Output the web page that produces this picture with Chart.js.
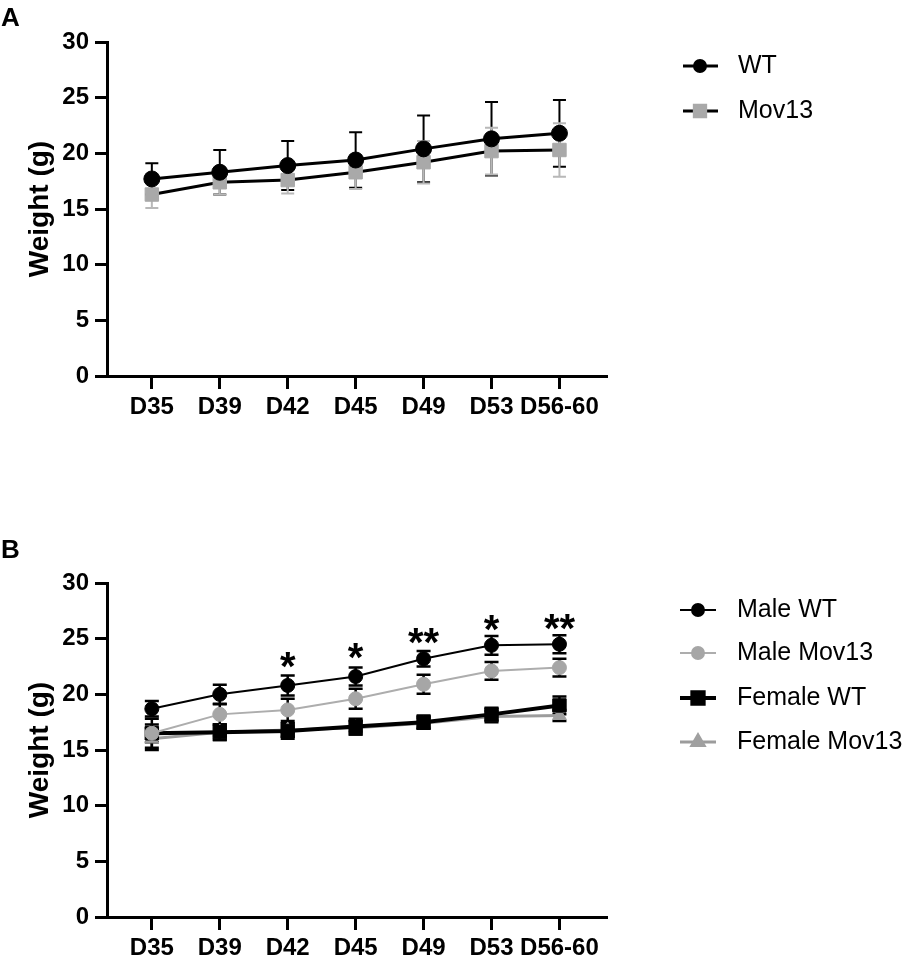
<!DOCTYPE html>
<html>
<head>
<meta charset="utf-8">
<script src="https://cdn.jsdelivr.net/npm/chart.js@4.4.1/dist/chart.umd.min.js"></script>
<style>
  body { margin: 0; background: #fff; }
  .panel { position: absolute; left: 0; width: 910px; height: 423px; }
  #panelA { top: 0; }
  #panelB { top: 538px; }
</style>
</head>
<body>
<div class="panel" id="panelA"><canvas id="chartA" width="910" height="423"></canvas></div>
<div class="panel" id="panelB"><canvas id="chartB" width="910" height="423"></canvas></div>
<script>
// time points
const days = ['D35', 'D39', 'D42', 'D45', 'D49', 'D53', 'D56-60'];

// panel A - all animals, mean and SD
const wtMean = [17.7, 18.3, 18.9, 19.4, 20.4, 21.3, 21.8];
const wtSD = [1.4, 2.0, 2.2, 2.5, 3.0, 3.3, 3.0];
const mov13Mean = [16.3, 17.4, 17.6, 18.3, 19.2, 20.2, 20.3];
const mov13SD = [1.2, 1.1, 1.2, 1.5, 1.9, 2.1, 2.4];

// panel B - split by sex
const maleWT = [18.7, 20.0, 20.8, 21.6, 23.2, 24.4, 24.5];
const maleWTErr = [0.7, 0.85, 0.9, 0.8, 0.7, 0.85, 0.8];
const maleMov13 = [16.5, 18.2, 18.6, 19.6, 20.9, 22.1, 22.4];
const maleMov13Err = [1.3, 0.9, 1.0, 0.9, 0.85, 0.8, 0.8];
const femaleWT = [16.5, 16.6, 16.7, 17.1, 17.5, 18.2, 19.0];
const femaleWTErr = [0.8, 0.7, 0.7, 0.7, 0.6, 0.6, 0.8];
const femaleMov13 = [16.0, 16.6, 16.8, 17.0, 17.4, 18.0, 18.1];
const femaleMov13Err = [1.0, 0.7, 0.6, 0.6, 0.5, 0.5, 0.5];

// significance marks (male WT vs male Mov13) and the weight level they sit at
const sigLabels = ['', '', '*', '*', '**', '*', '**'];
const sigLevel = [null, null, 23.1, 23.9, 25.2, 26.4, 26.5];

const FONT = "'Liberation Sans', Arial, sans-serif";
Chart.defaults.font.family = FONT;
Chart.defaults.color = '#000';

const points = arr => arr.map((v, i) => ({ x: i, y: v }));

// vertical error bars with caps, drawn under the markers
const errorBars = {
  id: 'errorBars',
  beforeDatasetsDraw(chart) {
    const ctx = chart.ctx;
    const yScale = chart.scales.y;
    chart.data.datasets.forEach((ds, i) => {
      if (!ds.errors) return;
      const meta = chart.getDatasetMeta(i);
      ctx.save();
      ctx.strokeStyle = ds.errorColor;
      ctx.lineWidth = ds.errorWidth;
      meta.data.forEach((pt, j) => {
        const v = ds.data[j].y, e = ds.errors[j];
        const top = yScale.getPixelForValue(v + e);
        const bot = yScale.getPixelForValue(v - e);
        const w = ds.capHalf;
        ctx.beginPath();
        ctx.moveTo(pt.x, top); ctx.lineTo(pt.x, bot);
        ctx.moveTo(pt.x - w, top); ctx.lineTo(pt.x + w, top);
        ctx.moveTo(pt.x - w, bot); ctx.lineTo(pt.x + w, bot);
        ctx.stroke();
      });
      ctx.restore();
    });
  }
};

// asterisks above the male series
const sigMarks = {
  id: 'sigMarks',
  afterDatasetsDraw(chart, args, opts) {
    if (!opts.labels) return;
    const ctx = chart.ctx;
    ctx.save();
    ctx.font = `bold ${opts.size}px ${FONT}`;
    ctx.fillStyle = '#000';
    ctx.textAlign = 'center';
    ctx.textBaseline = 'alphabetic';
    opts.labels.forEach((s, i) => {
      if (!s) return;
      const x = chart.scales.x.getPixelForValue(i);
      const yc = chart.scales.y.getPixelForValue(opts.levels[i]);
      const m = ctx.measureText(s);
      ctx.fillText(s, x, yc + (m.actualBoundingBoxAscent - m.actualBoundingBoxDescent) / 2);
    });
    ctx.restore();
  }
};

// legend on the right (line + marker + label) and the panel letter
const sideLegend = {
  id: 'sideLegend',
  afterDraw(chart, args, opts) {
    const ctx = chart.ctx;
    chart.data.datasets.forEach((ds, i) => {
      const y = opts.rows[i];
      ctx.save();
      ctx.strokeStyle = ds.borderColor;
      ctx.lineWidth = ds.borderWidth;
      ctx.beginPath();
      ctx.moveTo(opts.lineX[0], y);
      ctx.lineTo(opts.lineX[1], y);
      ctx.stroke();
      ctx.fillStyle = ds.pointBackgroundColor;
      ctx.strokeStyle = ds.pointBorderColor;
      Chart.helpers.drawPoint(ctx, {
        pointStyle: ds.pointStyle, radius: ds.legendRadius, rotation: 0, borderWidth: 1
      }, opts.markerX, y);
      ctx.fillStyle = '#000';
      ctx.font = `25px ${FONT}`;
      ctx.textBaseline = 'middle';
      ctx.fillText(ds.label, opts.textX, y);
      ctx.restore();
    });
    ctx.save();
    ctx.font = `bold 26px ${FONT}`;
    ctx.fillStyle = '#000';
    ctx.fillText(opts.letter, opts.letterPos[0], opts.letterPos[1]);
    ctx.restore();
  }
};

function axes(xHeight) {
  const tickFont = { size: 24, weight: 'bold' };
  return {
    x: {
      type: 'linear', min: -0.66, max: 6.7,
      afterBuildTicks: s => { s.ticks = days.map((d, i) => ({ value: i })); },
      afterFit: s => { s.height = xHeight; },
      ticks: { callback: v => days[v], autoSkip: false, maxRotation: 0, padding: 4, font: tickFont, color: '#000' },
      grid: { drawOnChartArea: false, tickLength: 13, tickWidth: 3, tickColor: '#000' },
      border: { color: '#000', width: 3 }
    },
    y: {
      min: 0, max: 30,
      afterFit: s => { s.width = 107; },
      ticks: { stepSize: 5, padding: 6, font: tickFont, color: '#000' },
      grid: { drawOnChartArea: false, tickLength: 12, tickWidth: 3, tickColor: '#000' },
      border: { color: '#000', width: 3 },
      title: { display: true, text: 'Weight (g)', color: '#000', font: { size: 28, weight: 'bold' }, padding: { top: 23, bottom: 0 } }
    }
  };
}

function series(label, values, errs, style) {
  return Object.assign({
    label: label,
    data: points(values),
    errors: errs,
    tension: 0,
    pointBorderWidth: 1,
    pointHoverRadius: style.pointRadius,
    errorColor: '#000',
    errorWidth: 2,
    capHalf: 6.5
  }, style);
}

function makeChart(id, datasets, frame, legendOpts, sigOpts) {
  return new Chart(document.getElementById(id), {
    type: 'line',
    data: { datasets: datasets },
    options: {
      responsive: false,
      animation: false,
      events: [],
      layout: { padding: { top: frame.top, right: 303, bottom: 0, left: 0 } },
      scales: axes(frame.xHeight),
      plugins: {
        legend: { display: false },
        tooltip: { enabled: false },
        sideLegend: legendOpts,
        sigMarks: sigOpts
      }
    },
    plugins: [errorBars, sigMarks, sideLegend]
  });
}

makeChart('chartA', [
  series('WT', wtMean, wtSD, {
    borderColor: '#000', borderWidth: 3, pointStyle: 'circle', pointRadius: 8,
    pointBackgroundColor: '#000', pointBorderColor: '#000', legendRadius: 5.5
  }),
  series('Mov13', mov13Mean, mov13SD, {
    borderColor: '#000', borderWidth: 3, pointStyle: 'rect', pointRadius: 9.5,
    pointBackgroundColor: '#a9a9a9', pointBorderColor: '#a9a9a9', legendRadius: 8,
    errorColor: '#b8b8b8'
  })
], { top: 42, xHeight: 47 },
   { rows: [66, 111], lineX: [683, 718], markerX: 700, textX: 738, letter: 'A', letterPos: [1, 26] }, {});

makeChart('chartB', [
  series('Male WT', maleWT, maleWTErr, {
    borderColor: '#000', borderWidth: 2, pointStyle: 'circle', pointRadius: 7,
    pointBackgroundColor: '#000', pointBorderColor: '#000', legendRadius: 6,
    errorWidth: 2.5, capHalf: 7
  }),
  series('Male Mov13', maleMov13, maleMov13Err, {
    borderColor: '#adadad', borderWidth: 2, pointStyle: 'circle', pointRadius: 7,
    pointBackgroundColor: '#a6a6a6', pointBorderColor: '#a6a6a6', legendRadius: 6,
    errorWidth: 2.5, capHalf: 7
  }),
  series('Female WT', femaleWT, femaleWTErr, {
    borderColor: '#000', borderWidth: 4, pointStyle: 'rect', pointRadius: 9.5,
    pointBackgroundColor: '#000', pointBorderColor: '#000', legendRadius: 8,
    errorWidth: 2.5, capHalf: 7
  }),
  series('Female Mov13', femaleMov13, femaleMov13Err, {
    borderColor: '#9c9c9c', borderWidth: 3, pointStyle: 'triangle', pointRadius: 8,
    pointBackgroundColor: '#a0a0a0', pointBorderColor: '#a0a0a0', legendRadius: 7,
    errorWidth: 2.5, capHalf: 7
  })
], { top: 45, xHeight: 44 },
   { rows: [72, 115, 160, 204], lineX: [680, 716], markerX: 698, textX: 737, letter: 'B', letterPos: [1, 20] },
   { labels: sigLabels, levels: sigLevel, size: 40 });
</script>
</body>
</html>
